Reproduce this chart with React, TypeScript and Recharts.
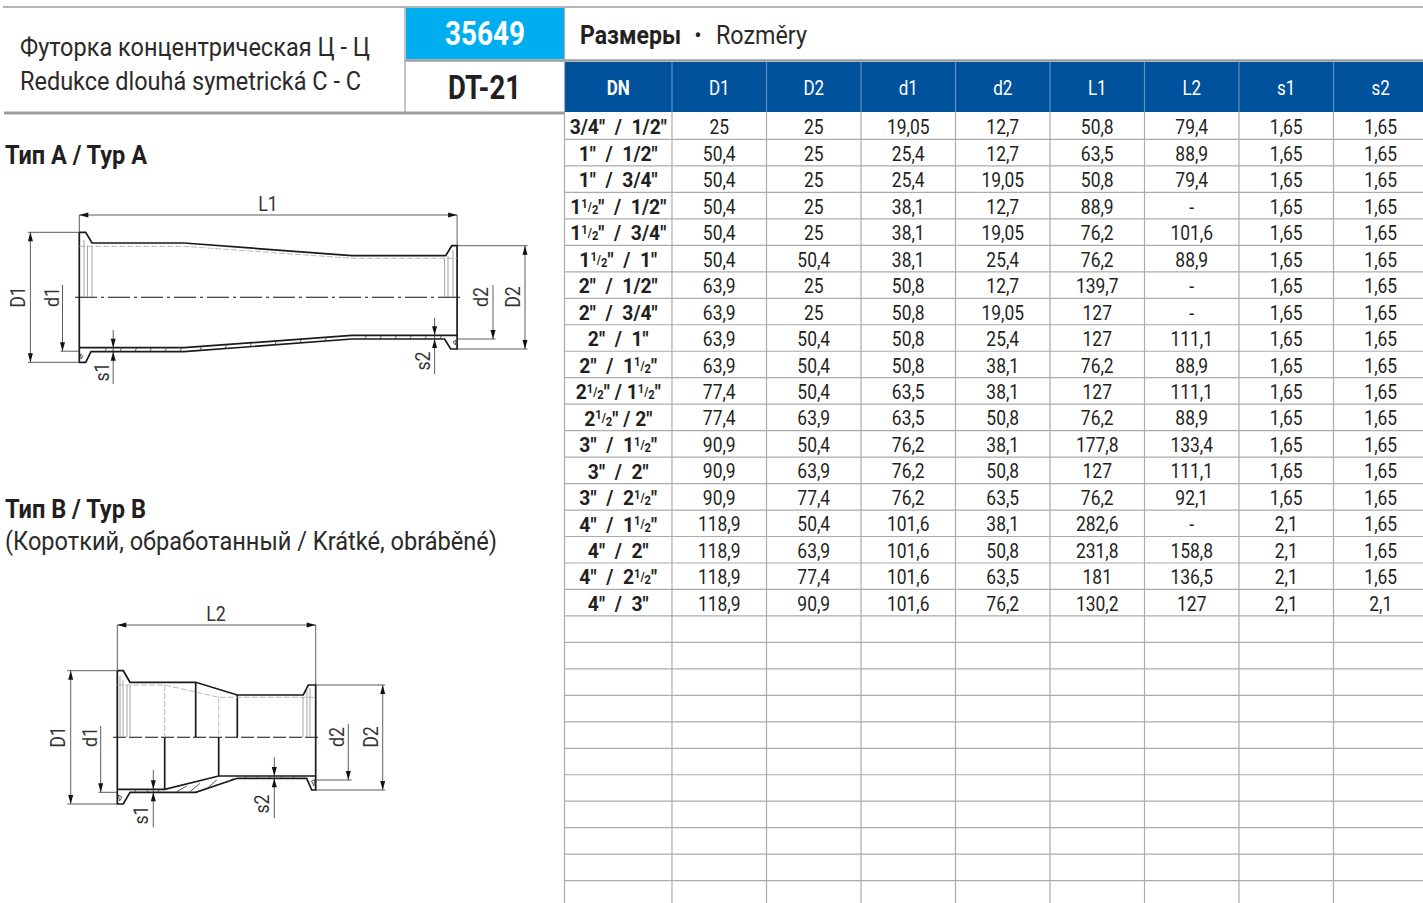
import React from "react";
import { ComposedChart, XAxis, YAxis, Line, Scatter, ReferenceArea, ReferenceLine } from "recharts";

const W = 1423, H = 903;
const INK = "#231f20", GRID = "#a9abae", BLUE = "#00529c", CYAN = "#00aeef", HAIR = "#9a9c9f";
const FONT = "Roboto, sans-serif";
const F = "¹⁄₂";

const dnLabels = [`3/4"  /  1/2"`, `1"  /  1/2"`, `1"  /  3/4"`, `1${F}"  /  1/2"`, `1${F}"  /  3/4"`, `1${F}"  /  1"`, `2"  /  1/2"`, `2"  /  3/4"`, `2"  /  1"`, `2"  /  1${F}"`, `2${F}" / 1${F}"`, `2${F}" / 2"`, `3"  /  1${F}"`, `3"  /  2"`, `3"  /  2${F}"`, `4"  /  1${F}"`, `4"  /  2"`, `4"  /  2${F}"`, `4"  /  3"`];
const D1 = ["25", "50,4", "50,4", "50,4", "50,4", "50,4", "63,9", "63,9", "63,9", "63,9", "77,4", "77,4", "90,9", "90,9", "90,9", "118,9", "118,9", "118,9", "118,9"];
const D2 = ["25", "25", "25", "25", "25", "50,4", "25", "25", "50,4", "50,4", "50,4", "63,9", "50,4", "63,9", "77,4", "50,4", "63,9", "77,4", "90,9"];
const d1 = ["19,05", "25,4", "25,4", "38,1", "38,1", "38,1", "50,8", "50,8", "50,8", "50,8", "63,5", "63,5", "76,2", "76,2", "76,2", "101,6", "101,6", "101,6", "101,6"];
const d2 = ["12,7", "12,7", "19,05", "12,7", "19,05", "25,4", "12,7", "19,05", "25,4", "38,1", "38,1", "50,8", "38,1", "50,8", "63,5", "38,1", "50,8", "63,5", "76,2"];
const L1 = ["50,8", "63,5", "50,8", "88,9", "76,2", "76,2", "139,7", "127", "127", "76,2", "127", "76,2", "177,8", "127", "76,2", "282,6", "231,8", "181", "130,2"];
const L2 = ["79,4", "88,9", "79,4", "-", "101,6", "88,9", "-", "-", "111,1", "88,9", "111,1", "88,9", "133,4", "111,1", "92,1", "-", "158,8", "136,5", "127"];
const s1 = ["1,65", "1,65", "1,65", "1,65", "1,65", "1,65", "1,65", "1,65", "1,65", "1,65", "1,65", "1,65", "1,65", "1,65", "1,65", "2,1", "2,1", "2,1", "2,1"];
const s2 = ["1,65", "1,65", "1,65", "1,65", "1,65", "1,65", "1,65", "1,65", "1,65", "1,65", "1,65", "1,65", "1,65", "1,65", "1,65", "1,65", "1,65", "1,65", "2,1"];
const headers = ["DN", "D1", "D2", "d1", "d2", "L1", "L2", "s1", "s2"];
const columns = [dnLabels, D1, D2, d1, d2, L1, L2, s1, s2];

const colEdges = [564.5, 672, 766.5, 861, 955.5, 1050, 1144.5, 1239, 1333.5, 1428];
const rowTop = 113, rowStep = 26.47, rowLineCount = 29;
const rowLines = Array.from({ length: rowLineCount }, (_, i) => rowTop + (i + 1) * rowStep);

type P = [number, number];
type Stroke = { w: number; c: string; dash?: string; pts: P[] };
const thick = (...pts: P[]): Stroke => ({ w: 1.7, c: "#1a1a1a", pts });
const thin = (...pts: P[]): Stroke => ({ w: 0.8, c: "#333", pts });
const soft = (...pts: P[]): Stroke => ({ w: 0.9, c: "#999", pts });
const dashed = (...pts: P[]): Stroke => ({ w: 0.8, c: "#aaa", dash: "6 2", pts });

const drawingA: Stroke[] = [
  thick([79.3, 232.3], [85.7, 232.3], [92, 243], [184, 243], [351.8, 255.7], [445.7, 255.7], [451.8, 245.7], [457.1, 245.7], [457.1, 349], [450.7, 349], [444.6, 339], [351.8, 339], [184, 351.7], [91, 351.7], [85.7, 362.3], [79.3, 362.3], [79.3, 232.3]),
  thick([79.3, 347.7], [184, 347.7], [351.8, 335.3], [457.1, 335.3]),
  { w: 1.1, c: "#111", dash: "22 4 3 4", pts: [[75, 297.3], [462.5, 297.3]] },
  dashed([79.3, 246.3], [184, 246.3], [351.8, 258.3], [457.1, 258.3]),
  soft([84, 240], [84, 297]), soft([87.5, 246], [87.5, 297]), soft([92, 246], [92, 297]),
  soft([444.6, 258], [444.6, 297]), soft([448, 256], [448, 297]), soft([453, 250], [453, 297]),
  thin([105, 351.5], [106.5, 348]), thin([120, 351.5], [121.5, 348]), thin([135, 351.5], [136.5, 348]), thin([150, 351.5], [151.5, 348]), thin([165, 351.5], [166.5, 348]), thin([180, 351.5], [181.5, 348]),
  thin([200, 350.5], [201.5, 346.5]), thin([225, 348.6], [226.5, 344.7]), thin([250, 346.8], [251.5, 342.8]), thin([275, 344.9], [276.5, 341]), thin([300, 343], [301.5, 339.1]), thin([325, 341.1], [326.5, 337.3]),
  thin([365, 339], [366.5, 335.5]), thin([380, 339], [381.5, 335.5]), thin([395, 339], [396.5, 335.5]), thin([410, 339], [411.5, 335.5]), thin([425, 339], [426.5, 335.5]), thin([440, 339], [441.5, 335.5]),
  thin([80.5, 354], [83, 356], [81, 359], [80.5, 354]),
  thin([453, 342], [456, 340], [455.5, 345], [453, 342]),
  thin([79.3, 215], [457.1, 215]), thin([79.3, 215], [79.3, 232]), thin([457.1, 215], [457.1, 245.7]),
  thin([28, 232.3], [79.3, 232.3]), thin([28, 362.3], [79.3, 362.3]), thin([30.4, 232.3], [30.4, 362.3]),
  thin([62.5, 285], [62.5, 351.2]), thin([60.5, 351.2], [79.3, 351.2]),
  thin([457.1, 245.7], [527.5, 245.7]), thin([457.1, 349], [527.5, 349]), thin([525, 245.7], [525, 349]),
  thin([493, 285], [493, 339]), thin([457.1, 339], [495.5, 339]),
  thin([113.2, 330], [113.2, 384]), thin([434.6, 317.7], [434.6, 374]),
];

const drawingB: Stroke[] = [
  thick([117.3, 670.7], [123.3, 670.7], [130, 682.3], [195.7, 682.3], [237.3, 695], [303.3, 695], [308.3, 685], [315.7, 685], [315.7, 790], [311.7, 790], [306.7, 778.3], [237.3, 778.3], [195.7, 792.3], [130, 792.3], [123.3, 804], [117.3, 804], [117.3, 670.7]),
  thick([117.3, 789.3], [164.7, 789.3], [218.7, 776], [315.7, 776]),
  thick([195.7, 682.3], [195.7, 737.3]), thick([237.3, 695], [237.3, 737.3]),
  thick([164.7, 737.3], [164.7, 789.3]), thick([218.7, 737.3], [218.7, 776]),
  { w: 1.1, c: "#111", dash: "13 3", pts: [[113, 737.3], [318, 737.3]] },
  dashed([117.3, 685], [164.7, 685], [218.7, 697.3], [315.7, 697.3]),
  dashed([164.7, 685], [164.7, 737.3]), dashed([218.7, 697.3], [218.7, 737.3]),
  soft([120, 676], [120, 737]), soft([123, 680], [123, 737]), soft([127, 685], [127, 737]), soft([130, 685], [130, 737]),
  soft([303, 697], [303, 737]), soft([307, 690], [307, 737]), soft([310, 688], [310, 737]),
  thin([176.7, 791.7], [186.7, 786]), thin([190, 791.7], [200, 783.3]), thin([208.3, 787.3], [216.7, 780]), thin([226.7, 782.7], [233.3, 778.3]),
  thin([135, 792], [136, 789.5]), thin([147, 792], [148, 789.5]), thin([158, 792], [159, 789.5]),
  thin([245, 778.3], [246, 776]), thin([257, 778.3], [258, 776]), thin([269, 778.3], [270, 776]), thin([281, 778.3], [282, 776]), thin([293, 778.3], [294, 776]),
  thin([118.5, 795], [122, 797], [119.5, 801], [118.5, 795]),
  thin([311.5, 781], [314.5, 779.5], [314, 786], [311.5, 781]),
  thin([117.3, 625], [315.7, 625]), thin([117.3, 625], [117.3, 670.7]), thin([315.7, 625], [315.7, 685]),
  thin([67.3, 670.7], [117.3, 670.7]), thin([67.3, 804], [117.3, 804]), thin([70.7, 670.7], [70.7, 804]),
  thin([100.7, 726], [100.7, 792.3]), thin([98.3, 792.3], [117.3, 792.3]),
  thin([348.3, 724], [348.3, 780]), thin([315.7, 780], [351.7, 780]),
  thin([315.7, 685], [385, 685]), thin([315.7, 790], [385, 790]), thin([382.7, 685], [382.7, 790]),
  thin([153.3, 770], [153.3, 827.3]), thin([274.3, 757.3], [274.3, 818]),
];

const arrowTips = [
  { x: 79.3, y: 215, dir: "l" }, { x: 457.1, y: 215, dir: "r" },
  { x: 30.4, y: 232.3, dir: "u" }, { x: 30.4, y: 362.3, dir: "d" }, { x: 62.5, y: 351.2, dir: "d" },
  { x: 525, y: 245.7, dir: "u" }, { x: 525, y: 349, dir: "d" }, { x: 493, y: 339, dir: "d" },
  { x: 113.2, y: 347.7, dir: "d" }, { x: 113.2, y: 351.7, dir: "u" }, { x: 434.6, y: 335.3, dir: "d" }, { x: 434.6, y: 339, dir: "u" },
  { x: 117.3, y: 625, dir: "l" }, { x: 315.7, y: 625, dir: "r" },
  { x: 70.7, y: 670.7, dir: "u" }, { x: 70.7, y: 804, dir: "d" }, { x: 100.7, y: 792.3, dir: "d" },
  { x: 382.7, y: 685, dir: "u" }, { x: 382.7, y: 790, dir: "d" }, { x: 348.3, y: 780, dir: "d" },
  { x: 153.3, y: 789.3, dir: "d" }, { x: 153.3, y: 792.3, dir: "u" }, { x: 274.3, y: 776, dir: "d" }, { x: 274.3, y: 778.3, dir: "u" },
];

const dimLabels = [
  ["L1", 268, 204, 0], ["D1", 18, 297, -90], ["d1", 52, 297, -90], ["d2", 481, 297, -90], ["D2", 513, 297, -90], ["s1", 101.5, 372, -90], ["s2", 423, 361, -90],
  ["L2", 216, 614, 0], ["D1", 57.5, 737, -90], ["d1", 89.5, 737, -90], ["d2", 337, 737, -90], ["D2", 370.5, 737, -90], ["s1", 140.5, 815, -90], ["s2", 261.5, 804, -90],
].map(([t, x, y, rot]) => ({ t, x, y, rot, size: 21, sx: 0.85, fill: "#333", mid: true, weight: 400, anchor: "middle" }));

const titleTexts = [
  { t: "Футорка концентрическая Ц - Ц", x: 20, y: 56, size: 25, len: 350, weight: 400, anchor: "start", fill: "#2b2a29" },
  { t: "Redukce dlouhá symetrická C - C", x: 20, y: 90, size: 25, len: 341, weight: 400, anchor: "start", fill: "#2b2a29" },
  { t: "35649", x: 445, y: 45, size: 33, len: 80, weight: 700, anchor: "start", fill: "#fff" },
  { t: "DT-21", x: 448, y: 99, size: 33, len: 73, weight: 700, anchor: "start", fill: INK },
  { t: "Размеры", x: 580, y: 44, size: 25, len: 101, weight: 700, anchor: "start", fill: INK },
  { t: "•", x: 698, y: 43, size: 22, weight: 400, anchor: "middle", fill: INK },
  { t: "Rozměry", x: 716, y: 44, size: 26, len: 91, weight: 400, anchor: "start", fill: "#2b2a29" },
  { t: "Тип A / Typ A", x: 5, y: 164, size: 26, len: 142, weight: 700, anchor: "start", fill: INK },
  { t: "Тип B / Typ B", x: 5, y: 518, size: 26, len: 141, weight: 700, anchor: "start", fill: INK },
  { t: "(Короткий, обработанный / Krátké, obráběné)", x: 5, y: 550, size: 25, len: 492, weight: 400, anchor: "start", fill: "#2b2a29" },
];

const colCenter = (i: number) => (colEdges[i] + colEdges[i + 1]) / 2;
const headerTexts = headers.map((t, i) => ({ t, x: colCenter(i), y: 88, size: 20, sx: 0.85, mid: true, weight: i === 0 ? 700 : 400, anchor: "middle", fill: "#fff" }));
const cellTexts = columns.flatMap((col, c) => col.map((t, r) => ({ t, x: colCenter(c), y: rowTop + r * rowStep + 14, size: c === 0 ? 21 : 20.5, sx: c === 0 ? 0.92 : 0.85, mid: true, weight: c === 0 ? 700 : 400, anchor: "middle", fill: INK })));

const renderRuns = (t: string, size: number) => {
  const parts = String(t).split(F);
  const small = size * 0.58, rise = size * 0.3;
  return parts.flatMap((part, i) => {
    const run = [<tspan key={`p${i}`}>{part}</tspan>];
    if (i < parts.length - 1) {
      run.push(
        <tspan key={`a${i}`} fontSize={small} dy={-rise}>1</tspan>,
        <tspan key={`b${i}`} fontSize={small} dy={rise * 0.5}>/</tspan>,
        <tspan key={`c${i}`} fontSize={small} dy={rise * 0.5}>2</tspan>,
      );
    }
    return run;
  });
};

const TextMark = (props: any) => {
  const { cx, cy, payload: p } = props;
  const sx = p.sx ?? 1;
  const tf = `translate(${cx} ${cy}) rotate(${p.rot ?? 0}) scale(${sx} 1)`;
  return (
    <text transform={tf} y={p.mid ? p.size * 0.355 : 0} textAnchor={p.anchor} fontFamily={FONT} fontSize={p.size} fontWeight={p.weight} fill={p.fill}
      textLength={p.len} lengthAdjust={p.len ? "spacingAndGlyphs" : undefined} style={{ whiteSpace: "pre" }}>{renderRuns(p.t, p.size)}</text>
  );
};

const ArrowMark = (props: any) => {
  const { cx, cy, payload } = props;
  const L = 9, H2 = 2.5;
  const pts: Record<string, string> = {
    l: `${cx},${cy} ${cx + L},${cy - H2} ${cx + L},${cy + H2}`,
    r: `${cx},${cy} ${cx - L},${cy - H2} ${cx - L},${cy + H2}`,
    u: `${cx},${cy} ${cx - H2},${cy + L} ${cx + H2},${cy + L}`,
    d: `${cx},${cy} ${cx - H2},${cy - L} ${cx + H2},${cy - L}`,
  };
  return <polygon points={pts[payload.dir]} fill="#111" />;
};

const strokes = [...drawingA, ...drawingB];
const seg = (x1: number, y1: number, x2: number, y2: number) => [{ x: x1, y: y1 }, { x: x2, y: y2 }] as any;

export default function App() {
  return (
    <div style={{ position: "fixed", left: 0, top: 0, width: W, height: H, background: "#fff", overflow: "hidden" }}>
      <ComposedChart width={W} height={H} margin={{ top: 0, right: 0, bottom: 0, left: 0 }} data={[]}>
        <XAxis type="number" dataKey="x" domain={[0, W]} hide allowDataOverflow />
        <YAxis type="number" dataKey="y" domain={[0, H]} reversed hide allowDataOverflow />

        <ReferenceArea x1={406} x2={564} y1={8} y2={59} fill={CYAN} fillOpacity={1} stroke="none" ifOverflow="visible" />
        <ReferenceArea x1={565} x2={W} y1={62} y2={112} fill={BLUE} fillOpacity={1} stroke="none" ifOverflow="visible" />

        <ReferenceLine segment={seg(3, 7, W, 7)} stroke={HAIR} strokeWidth={1.5} ifOverflow="visible" />
        <ReferenceLine segment={seg(405, 60.5, W, 60.5)} stroke={HAIR} strokeWidth={2.5} ifOverflow="visible" />
        <ReferenceLine segment={seg(4, 113, 564, 113)} stroke={HAIR} strokeWidth={3} ifOverflow="visible" />
        <ReferenceLine segment={seg(405, 7, 405, 113)} stroke={HAIR} strokeWidth={1.2} ifOverflow="visible" />
        <ReferenceLine segment={seg(564.5, 7, 564.5, H)} stroke={GRID} strokeWidth={1.2} ifOverflow="visible" />
        {colEdges.slice(1, -1).map((x) => (
          <ReferenceLine key={`hc${x}`} segment={seg(x, 62, x, 112)} stroke="#5f8fc4" strokeWidth={1.2} ifOverflow="visible" />
        ))}
        {colEdges.slice(1, -1).map((x) => (
          <ReferenceLine key={`c${x}`} segment={seg(x, 112, x, H)} stroke={GRID} strokeWidth={1.2} ifOverflow="visible" />
        ))}
        {rowLines.map((y) => (
          <ReferenceLine key={`r${y}`} segment={seg(564.5, y, W, y)} stroke={GRID} strokeWidth={1.2} ifOverflow="visible" />
        ))}

        {strokes.map((s, i) => (
          <Line key={`s${i}`} data={s.pts.map(([x, y]) => ({ x, y }))} dataKey="y" type="linear" stroke={s.c} strokeWidth={s.w} strokeDasharray={s.dash} dot={false} activeDot={false} isAnimationActive={false} legendType="none" />
        ))}
        <Scatter data={arrowTips} dataKey="y" shape={ArrowMark} isAnimationActive={false} />
        <Scatter data={dimLabels as any} dataKey="y" shape={TextMark} isAnimationActive={false} />
        <Scatter data={titleTexts} dataKey="y" shape={TextMark} isAnimationActive={false} />
        <Scatter data={headerTexts} dataKey="y" shape={TextMark} isAnimationActive={false} />
        <Scatter data={cellTexts} dataKey="y" shape={TextMark} isAnimationActive={false} />
      </ComposedChart>
    </div>
  );
}
